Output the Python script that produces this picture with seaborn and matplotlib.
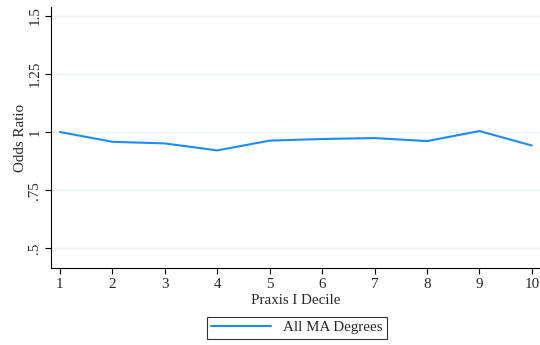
import pandas as pd
import seaborn as sns
import matplotlib.pyplot as plt

decile = [1, 2, 3, 4, 5, 6, 7, 8, 9, 10]
odds_ratio = [1.0, 0.958, 0.951, 0.921, 0.963, 0.970, 0.974, 0.961, 1.004, 0.942]
yticks = [0.5, 0.75, 1.0, 1.25, 1.5]
ytick_labels = [".5", ".75", "1", "1.25", "1.5"]

df = pd.DataFrame({"decile": decile, "odds": odds_ratio, "series": "All MA Degrees"})

sns.set_style("white")
plt.rcParams['font.family'] = ['Liberation Serif', 'DejaVu Serif']

fig = plt.figure(figsize=(5.4, 3.45), dpi=100)
ax = fig.add_axes([0.0944, 0.223, 0.905, 0.757])

for y in yticks:
    ax.axhline(y, color="#eaf2f3", lw=1, zorder=0)

sns.lineplot(data=df, x="decile", y="odds", hue="series", palette=["#1a8cff"],
             lw=1.5, ax=ax, legend=True)

ax.set_xlim(0.83, 10.15)
ax.set_ylim(0.416, 1.537)
ax.set_xticks(decile)
ax.set_yticks(yticks)
ax.set_yticklabels(ytick_labels, rotation=90, va="center")
ax.tick_params(axis="both", direction="out", length=4, width=0.8, color="black",
               labelsize=10.8, pad=3, bottom=True, left=True)
ax.set_xlabel("Praxis I Decile", fontsize=10.8, labelpad=2)
ax.set_ylabel("Odds Ratio", fontsize=10.8, labelpad=1)
for s in ["top", "right"]:
    ax.spines[s].set_visible(False)
for s in ["left", "bottom"]:
    ax.spines[s].set_color("black")
    ax.spines[s].set_linewidth(0.8)

handles, labels = ax.get_legend_handles_labels()
ax.get_legend().remove()
leg = fig.legend(handles, labels, loc="center", bbox_to_anchor=(0.55, 0.05),
                 fontsize=10.8, frameon=True, fancybox=False, edgecolor="black",
                 handlelength=4.0, borderpad=0.3)
leg.get_frame().set_linewidth(0.8)

fig.savefig("out.png", dpi=100)
